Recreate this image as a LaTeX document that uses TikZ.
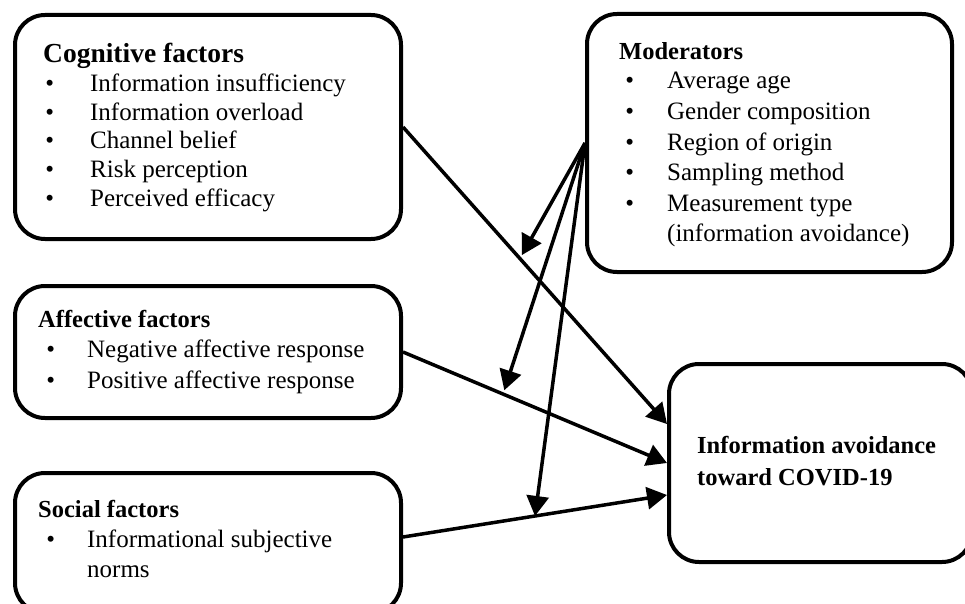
\documentclass[tikz,border=0pt]{standalone}
\usepackage{fontspec}
\setmainfont{Liberation Serif}
\usetikzlibrary{arrows.meta}
\newcommand\bul[1]{\llap{\textbullet\hspace{#1}}}
\begin{document}
\begin{tikzpicture}[x=1pt,y=-1pt,
  box/.style={draw, line width=4pt, rounded corners=30pt, inner sep=0pt, anchor=north west},
  title/.style={font=\fontsize{24.5}{29}\selectfont\bfseries, anchor=base west, inner sep=0pt},
  item/.style={font=\fontsize{25}{29}\selectfont, anchor=base west, inner sep=0pt},
  link/.style={line width=3.5pt, -{Triangle[length=20pt,width=22pt]}},
]
\useasboundingbox (0,0) rectangle (965,604);
\clip (0,0) rectangle (965,604);
% boxes
\node[box, minimum width=386pt, minimum height=224pt] (cog) at (13,13) {};
\node[box, minimum width=386pt, minimum height=132pt] (aff) at (13,284) {};
\node[box, minimum width=386pt, minimum height=140pt] (soc) at (13,471) {};
\node[box, minimum width=365pt, minimum height=258pt] (mod) at (585,12) {};
\node[box, minimum width=303pt, minimum height=198pt] (out) at (667,362) {};
% cognitive text
\node[title, font=\fontsize{27.5}{32}\selectfont\bfseries] (cogt) at (43,63) {Cognitive factors};
\foreach \t [count=\i] in {Information insufficiency, Information overload, Channel belief, Risk perception, Perceived efficacy}
  \node[item] (cog\i) at (90,{92+28.5*(\i-1)}) {\bul{36pt}\t};
% affective text
\node[title] (afft) at (38,327) {Affective factors};
\node[item] (aff1) at (87,357) {\bul{32pt}Negative affective response};
\node[item] (aff2) at (87,388) {\bul{32pt}Positive affective response};
% social text
\node[title] (soct) at (38,517) {Social factors};
\node[item] (soc1) at (87,547) {\bul{32pt}Informational subjective};
\node[item] (soc2) at (87,577) {norms};
% moderators text
\node[title] (modt) at (619,60) {Moderators};
\foreach \t [count=\i] in {Average age, Gender composition, Region of origin, Sampling method, Measurement type}
  \node[item] (mod\i) at (667,{89+30.5*(\i-1)}) {\bul{33pt}\t};
\node[item] (mod6) at (667,241.5) {(information avoidance)};
% outcome text
\node[title] (out1) at (697,453) {Information avoidance};
\node[title] (out2) at (697,485) {toward COVID-19};
% main paths
\draw[link] (cog.east) -- coordinate[pos=0.443] (m1) ([yshift=39pt]out.west);
\draw[link] (aff.east) -- coordinate[pos=0.379] (m2) (out.west);
\draw[link] ([yshift=6pt]soc.east) -- coordinate[pos=0.5] (m3) ([yshift=-32pt]out.west);
% moderator arrows
\draw[link, shorten >=4pt] (mod.west) -- (m1);
\draw[link, shorten >=4pt] (mod.west) -- (m2);
\draw[link] (mod.west) -- (m3);
\end{tikzpicture}
\end{document}
